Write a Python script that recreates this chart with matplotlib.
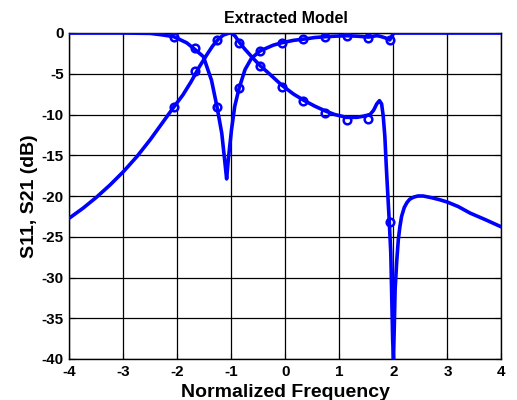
import matplotlib
matplotlib.use("Agg")
import matplotlib.pyplot as plt

# Curve A (line)
a_x = [-4.0, -3.75, -3.5, -3.25, -3.0, -2.75, -2.5, -2.25, -2.07, -1.9, -1.75, -1.6, -1.45,
       -1.35, -1.25, -1.15, -1.05, -1.0,
       -0.93, -0.86, -0.75, -0.6, -0.47, -0.3, -0.07, 0.15, 0.35, 0.55, 0.75, 0.91, 1.13, 1.32,
       1.45, 1.565, 1.63, 1.69, 1.74, 1.78, 1.81, 1.84, 1.87, 1.92, 1.95, 1.985, 2.0,
       2.015, 2.03, 2.06, 2.09, 2.12, 2.15, 2.2, 2.25, 2.3, 2.37, 2.45, 2.55, 2.7, 2.85,
       3.0, 3.2, 3.42, 3.7, 4.0]
a_y = [-22.7, -21.5, -20.15, -18.65, -17.0, -15.15, -13.05, -10.75, -9.1, -7.6, -6.0, -4.2, -2.6,
       -1.6, -0.8, -0.25, -0.02, 0.0,
       -0.4, -1.1, -2.0, -3.1, -4.0, -5.0, -6.4, -7.5, -8.3, -9.0, -9.6, -10.0, -10.35, -10.35,
       -10.2, -10.0, -9.5, -8.7, -8.3, -8.7, -10.2, -12.7, -16.8, -22.9, -27.0, -37.7, -40.0,
       -36.0, -31.5, -28.0, -25.3, -23.7, -22.5, -21.4, -20.8, -20.4, -20.15, -20.0, -20.0, -20.2, -20.45,
       -20.75, -21.3, -22.1, -22.9, -23.8]

# Curve B (line)
b_x = [-4.0, -3.0, -2.5, -2.26, -2.07, -1.83, -1.68, -1.52, -1.37, -1.27, -1.18, -1.12, -1.09,
       -1.06, -1.0, -0.94, -0.86, -0.75, -0.63, -0.47, -0.23, -0.07, 0.15, 0.35, 0.55, 0.75,
       0.95, 1.13, 1.35, 1.535, 1.69, 1.75, 1.85, 1.93, 1.97, 2.0, 3.0, 4.0]
b_y = [0.0, 0.0, -0.05, -0.25, -0.45, -1.2, -2.0, -2.9, -5.8, -9.0, -12.3, -16.0, -17.9,
       -15.6, -11.9, -9.0, -6.8, -4.5, -3.1, -2.2, -1.5, -1.2, -0.9, -0.74, -0.55, -0.45,
       -0.38, -0.33, -0.4, -0.5, -0.33, -0.4, -0.6, -0.85, -0.4, 0.0, 0.0, 0.0]

# Marker data
m_x = [-2.07, -1.67, -1.27, -0.87, -0.47, -0.07, 0.33, 0.73, 1.13, 1.53, 1.93]
ma_y = [-9.1, -4.7, -0.86, -1.2, -4.1, -6.6, -8.3, -9.8, -10.7, -10.6, -23.2]
mb_y = [-0.55, -1.9, -9.1, -6.8, -2.2, -1.2, -0.74, -0.45, -0.35, -0.57, -0.86]

xticks = [-4, -3, -2, -1, 0, 1, 2, 3, 4]
yticks = [0, -5, -10, -15, -20, -25, -30, -35, -40]

plt.rcParams['font.family'] = ['Liberation Sans', 'DejaVu Sans']
plt.rcParams['font.weight'] = 'bold'
plt.rcParams['axes.unicode_minus'] = False

fig = plt.figure(figsize=(5.17, 4.00), dpi=100)
ax = fig.add_axes([0.1344, 0.1025, 0.8356, 0.815])

blue = '#0000ff'
ax.plot(a_x, a_y, color=blue, lw=2.6, solid_joinstyle='round', zorder=3)
ax.plot(b_x, b_y, color=blue, lw=2.6, solid_joinstyle='round', zorder=3)
ax.plot(m_x, ma_y, ls='none', marker='o', ms=5.5, mfc='none', mec=blue, mew=1.8, zorder=4)
ax.plot(m_x, mb_y, ls='none', marker='o', ms=5.5, mfc='none', mec=blue, mew=1.8, zorder=4)

ax.set_xlim(-4, 4)
ax.set_ylim(-40, 0)
ax.set_xticks(xticks)
ax.set_yticks(yticks)
ax.grid(True, color='black', lw=0.9, ls='-')
ax.set_axisbelow(True)
ax.tick_params(direction='in', top=True, right=True, labelsize=11, length=4, pad=4)
for lab in ax.get_xticklabels() + ax.get_yticklabels():
    lab.set_fontweight('bold')
for s in ax.spines.values():
    s.set_linewidth(1.0)
    s.set_color('black')

ax.set_title('Extracted Model', fontsize=11.5, fontweight='bold', pad=7)
ax.set_xlabel('Normalized Frequency', fontsize=14, fontweight='bold', labelpad=4)
ax.set_ylabel('S11, S21 (dB)', fontsize=14, fontweight='bold', labelpad=3)

fig.savefig('out.png', dpi=100)
